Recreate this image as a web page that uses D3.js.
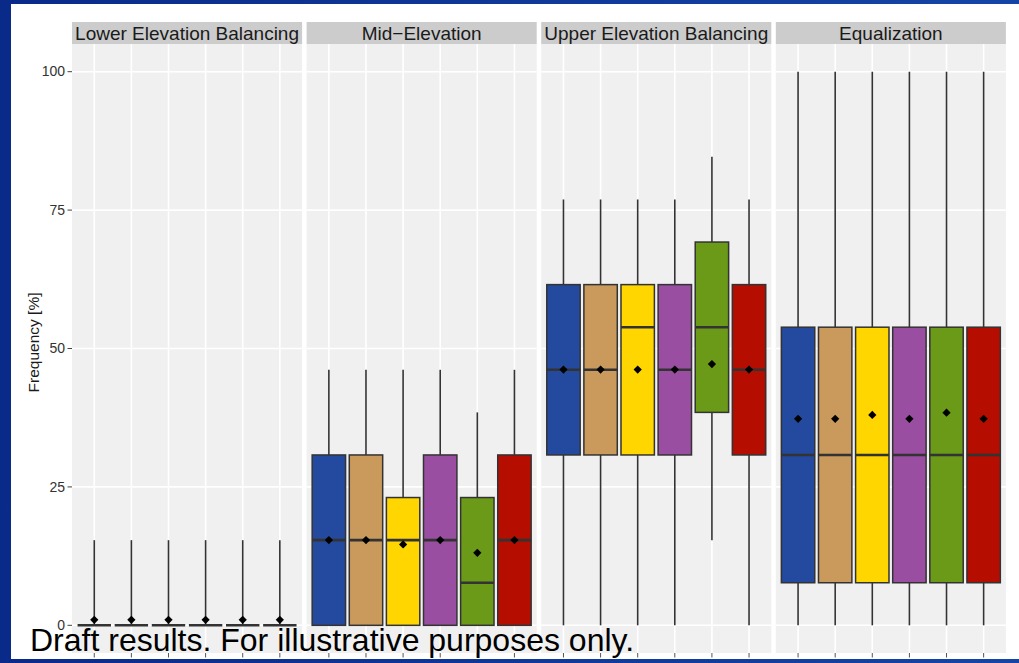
<!DOCTYPE html>
<html>
<head>
<meta charset="utf-8">
<script src="https://cdn.jsdelivr.net/npm/d3@7/dist/d3.min.js"></script>
<style>
  html, body { margin: 0; padding: 0; background: #0b2a8c; }
  svg { display: block; }
</style>
</head>
<body>
<svg id="chart" width="1019" height="663"></svg>
<script>
// Operating-tier frequency by scenario (percent of traces)
const facets = ["Lower Elevation Balancing", "Mid\u2212Elevation", "Upper Elevation Balancing", "Equalization"];
const groups = ["g1", "g2", "g3", "g4", "g5", "g6"];
const colors = ["#234a9f", "#c99a5c", "#ffd600", "#9a4ea1", "#6a9a18", "#b50d00"];

// Box statistics, one row per facet, one value per group
const whiskerLow = [
  [0, 0, 0, 0, 0, 0],
  [0, 0, 0, 0, 0, 0],
  [0, 0, 0, 0, 15.38, 0],
  [0, 0, 0, 0, 0, 0]
];
const q1 = [
  [0, 0, 0, 0, 0, 0],
  [0, 0, 0, 0, 0, 0],
  [30.77, 30.77, 30.77, 30.77, 38.46, 30.77],
  [7.69, 7.69, 7.69, 7.69, 7.69, 7.69]
];
const median = [
  [0, 0, 0, 0, 0, 0],
  [15.38, 15.38, 15.38, 15.38, 7.69, 15.38],
  [46.15, 46.15, 53.85, 46.15, 53.85, 46.15],
  [30.77, 30.77, 30.77, 30.77, 30.77, 30.77]
];
const q3 = [
  [0, 0, 0, 0, 0, 0],
  [30.77, 30.77, 23.08, 30.77, 23.08, 30.77],
  [61.54, 61.54, 61.54, 61.54, 69.23, 61.54],
  [53.85, 53.85, 53.85, 53.85, 53.85, 53.85]
];
const whiskerHigh = [
  [15.38, 15.38, 15.38, 15.38, 15.38, 15.38],
  [46.15, 46.15, 46.15, 46.15, 38.46, 46.15],
  [76.92, 76.92, 76.92, 76.92, 84.62, 76.92],
  [100, 100, 100, 100, 100, 100]
];
const means = [
  [1.0, 1.0, 1.0, 1.0, 1.0, 1.0],
  [15.4, 15.4, 14.6, 15.4, 13.1, 15.4],
  [46.2, 46.2, 46.2, 46.2, 47.2, 46.2],
  [37.3, 37.3, 38.0, 37.3, 38.4, 37.3]
];
const yTicks = [0, 25, 50, 75, 100];

const svg = d3.select("#chart");
const W = 1019, H = 663;

// slide backdrop
const defs = svg.append("defs");
const grad = defs.append("linearGradient").attr("id", "band").attr("x1", 0).attr("x2", 1);
grad.append("stop").attr("offset", 0).attr("stop-color", "#0a2a8a");
grad.append("stop").attr("offset", 1).attr("stop-color", "#1445a6");
svg.append("rect").attr("width", W).attr("height", H).attr("fill", "url(#band)");
svg.append("rect").attr("x", 11).attr("y", 4).attr("width", W - 11).attr("height", 655).attr("fill", "#ffffff");

// facet layout
const panelTop = 44, panelBottom = 653, stripTop = 22;
const panelX0 = 72, panelW = 230.1, panelGap = 4.5;

const y = d3.scaleLinear().domain([-5, 105]).range([panelBottom, panelTop]);
// discrete positions with 0.6-unit expansion on each side
const x = d3.scalePoint().domain(groups).range([0, panelW]).padding(0.6);
const cx = g => x(g);
const boxW = x.step() * 0.9;

const font = "Liberation Sans, Arial, Helvetica, sans-serif";

facets.forEach((facet, fi) => {
  const gx = panelX0 + fi * (panelW + panelGap);
  const g = svg.append("g").attr("transform", `translate(${gx},0)`);

  // panel background
  g.append("rect").attr("x", 0).attr("y", panelTop).attr("width", panelW)
    .attr("height", panelBottom - panelTop).attr("fill", "#f0f0f0");

  // grid lines
  g.selectAll("line.hgrid").data(yTicks).join("line")
    .attr("x1", 0).attr("x2", panelW)
    .attr("y1", d => y(d)).attr("y2", d => y(d))
    .attr("stroke", "#ffffff").attr("stroke-width", 1.6);
  g.selectAll("line.vgrid").data(groups).join("line")
    .attr("x1", d => cx(d)).attr("x2", d => cx(d))
    .attr("y1", panelTop).attr("y2", panelBottom)
    .attr("stroke", "#ffffff").attr("stroke-width", 1.6);

  // strip
  g.append("rect").attr("x", 0).attr("y", stripTop).attr("width", panelW)
    .attr("height", panelTop - stripTop).attr("fill", "#cccccc");
  g.append("text").attr("x", panelW / 2).attr("y", panelTop - 4.5)
    .attr("text-anchor", "middle").attr("font-family", font).attr("font-size", 19)
    .attr("fill", "#1a1a1a").text(facet);

  // x ticks under the panel
  g.selectAll("line.xtick").data(groups).join("line")
    .attr("x1", d => cx(d)).attr("x2", d => cx(d))
    .attr("y1", panelBottom).attr("y2", panelBottom + 4.5)
    .attr("stroke", "#555").attr("stroke-width", 1);

  const rows = groups.map((grp, i) => ({
    grp, color: colors[i],
    lo: whiskerLow[fi][i], q1: q1[fi][i], med: median[fi][i],
    q3: q3[fi][i], hi: whiskerHigh[fi][i], mean: means[fi][i]
  }));

  const box = g.selectAll("g.box").data(rows).join("g").attr("class", "box");
  // whiskers
  box.append("line")
    .attr("x1", d => cx(d.grp)).attr("x2", d => cx(d.grp))
    .attr("y1", d => y(d.q3)).attr("y2", d => y(d.hi))
    .attr("stroke", "#333").attr("stroke-width", 1.6);
  box.append("line")
    .attr("x1", d => cx(d.grp)).attr("x2", d => cx(d.grp))
    .attr("y1", d => y(d.q1)).attr("y2", d => y(d.lo))
    .attr("stroke", "#333").attr("stroke-width", 1.6);
  // boxes
  box.append("rect")
    .attr("x", d => cx(d.grp) - boxW / 2).attr("width", boxW)
    .attr("y", d => y(d.q3)).attr("height", d => y(d.q1) - y(d.q3))
    .attr("fill", d => d.color).attr("stroke", "#333").attr("stroke-width", 1.5);
  // medians
  box.append("line")
    .attr("x1", d => cx(d.grp) - boxW / 2).attr("x2", d => cx(d.grp) + boxW / 2)
    .attr("y1", d => y(d.med)).attr("y2", d => y(d.med))
    .attr("stroke", "#333").attr("stroke-width", 2.6);
  // mean markers
  box.append("path")
    .attr("transform", d => `translate(${cx(d.grp)},${y(d.mean)}) rotate(45)`)
    .attr("d", d3.symbol(d3.symbolSquare, 34)())
    .attr("fill", "#000");
});

// y axis
const ya = svg.append("g");
ya.selectAll("line").data(yTicks).join("line")
  .attr("x1", panelX0 - 4.5).attr("x2", panelX0)
  .attr("y1", d => y(d)).attr("y2", d => y(d))
  .attr("stroke", "#444").attr("stroke-width", 1);
ya.selectAll("text").data(yTicks).join("text")
  .attr("x", panelX0 - 7).attr("y", d => y(d) + 4.8)
  .attr("text-anchor", "end").attr("font-family", font).attr("font-size", 14)
  .attr("fill", "#333").text(d => d);

svg.append("text")
  .attr("transform", `translate(39,${(panelTop + panelBottom) / 2 - 6}) rotate(-90)`)
  .attr("text-anchor", "middle").attr("font-family", font).attr("font-size", 15.5)
  .attr("fill", "#1a1a1a").text("Frequency [%]");

// disclaimer overlay
svg.append("text").attr("x", 30).attr("y", 651)
  .attr("font-family", font).attr("font-size", 32).attr("fill", "#000")
  .text("Draft results. For illustrative purposes only.");
</script>
</body>
</html>
